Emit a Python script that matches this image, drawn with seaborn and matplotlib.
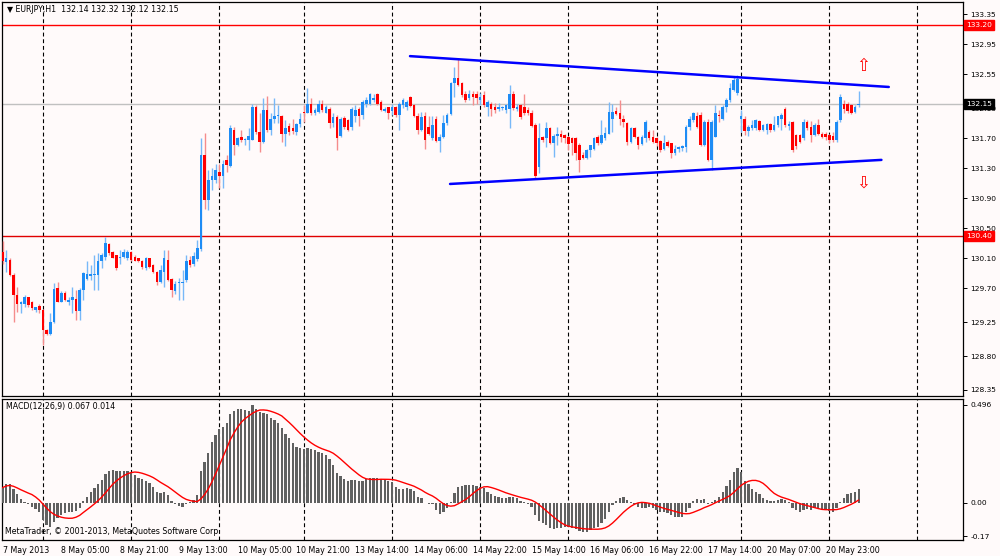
import numpy as np
import pandas as pd
import seaborn as sns
import matplotlib
matplotlib.use("Agg")
import matplotlib.pyplot as plt
import matplotlib.transforms as mtransforms

# EURJPY H1 bars, 7 May 13:00 .. 21 May 08:00
opens = [
    130.19, 130.05, 130.08, 129.88, 129.61, 129.49, 129.50, 129.58, 129.52, 129.41,
    129.47, 129.41, 129.15, 129.10, 129.25, 129.71, 129.52, 129.64, 129.52, 129.55,
    129.56, 129.40, 129.68, 129.83, 129.87, 129.88, 129.88, 130.06, 130.12, 130.29,
    130.19, 130.14, 130.10, 130.12, 130.11, 130.18, 130.12, 130.10, 130.07, 129.97,
    130.10, 130.01, 129.92, 129.79, 129.92, 130.08, 129.83, 129.67, 129.77, 129.77,
    129.81, 130.08, 130.03, 130.09, 130.22, 131.47, 130.87, 131.14, 131.14, 131.25,
    131.19, 131.41, 131.33, 131.81, 131.61, 131.71, 131.68, 131.68, 131.68, 132.11,
    131.78, 131.65, 132.08, 131.81, 131.95, 132.00, 132.00, 131.76, 131.86, 131.83,
    131.78, 131.89, 132.05, 132.04, 132.16, 132.03, 132.05, 132.15, 132.04, 132.09,
    131.90, 131.98, 131.73, 131.97, 131.94, 131.85, 131.99, 132.09, 132.01, 132.15,
    132.16, 132.21, 132.29, 132.18, 132.06, 132.11, 132.06, 132.11, 132.01, 132.14,
    132.12, 132.25, 132.14, 131.99, 131.81, 131.99, 131.85, 131.70, 131.96, 131.66,
    131.71, 131.90, 132.02, 132.43, 132.50, 132.43, 132.29, 132.23, 132.29, 132.29,
    132.21, 132.27, 132.12, 132.16, 132.12, 132.09, 132.10, 132.08, 132.09, 132.29,
    132.09, 132.14, 132.12, 132.07, 132.03, 131.87, 131.32, 131.71, 131.70, 131.83,
    131.63, 131.73, 131.75, 131.74, 131.72, 131.70, 131.70, 131.61, 131.47, 131.43,
    131.54, 131.56, 131.71, 131.63, 131.70, 131.76, 131.96, 132.06, 132.03, 131.96,
    131.90, 131.65, 131.83, 131.72, 131.62, 131.70, 131.78, 131.72, 131.70, 131.66,
    131.55, 131.65, 131.63, 131.50, 131.56, 131.57, 131.58, 131.85, 131.94, 132.00,
    132.01, 131.61, 131.92, 131.41, 131.72, 132.01, 131.96, 132.11, 132.21, 132.34,
    132.30, 131.96, 131.96, 131.79, 131.83, 131.84, 131.93, 131.81, 131.81, 131.89,
    131.81, 131.87, 131.96, 132.09, 131.86, 131.91, 131.74, 131.74, 131.70, 131.92,
    131.85, 131.74, 131.87, 131.76, 131.75, 131.74, 131.73, 131.67, 131.94, 132.16,
    132.16, 132.14, 132.05, 132.14,
]
highs = [
    130.33, 130.21, 130.10, 129.90, 129.72, 129.53, 129.61, 129.59, 129.53, 129.46,
    129.49, 129.43, 129.16, 129.38, 129.77, 129.79, 129.66, 129.66, 129.59, 129.72,
    129.68, 129.70, 129.92, 130.06, 130.01, 130.14, 130.17, 130.17, 130.39, 130.30,
    130.20, 130.15, 130.21, 130.22, 130.21, 130.20, 130.14, 130.11, 130.08, 130.12,
    130.11, 130.03, 129.93, 130.01, 130.21, 130.21, 129.84, 129.80, 129.84, 129.95,
    130.15, 130.13, 130.18, 130.35, 131.70, 131.77, 131.28, 131.30, 131.35, 131.36,
    131.41, 131.48, 131.87, 131.85, 131.72, 131.81, 131.70, 131.83, 132.16, 132.14,
    132.03, 132.23, 132.26, 132.03, 132.23, 132.14, 132.01, 131.94, 131.90, 131.96,
    131.90, 132.03, 132.14, 132.37, 132.23, 132.10, 132.21, 132.20, 132.14, 132.12,
    132.03, 132.01, 131.98, 131.99, 131.96, 132.11, 132.14, 132.11, 132.21, 132.25,
    132.30, 132.29, 132.30, 132.20, 132.12, 132.12, 132.16, 132.13, 132.18, 132.23,
    132.21, 132.26, 132.16, 132.03, 132.05, 132.05, 131.99, 131.99, 131.99, 131.76,
    132.01, 132.03, 132.44, 132.65, 132.76, 132.45, 132.33, 132.34, 132.32, 132.32,
    132.30, 132.32, 132.21, 132.18, 132.17, 132.17, 132.13, 132.16, 132.40, 132.32,
    132.16, 132.16, 132.29, 132.12, 132.07, 131.90, 131.90, 131.73, 131.92, 131.85,
    131.75, 131.85, 131.81, 131.75, 131.73, 131.71, 131.71, 131.63, 131.52, 131.56,
    131.61, 131.71, 131.74, 131.94, 131.85, 132.18, 132.16, 132.12, 132.21, 132.01,
    131.92, 131.85, 131.85, 131.73, 131.74, 131.94, 131.81, 131.81, 131.72, 131.67,
    131.74, 131.67, 131.64, 131.61, 131.59, 131.61, 131.87, 131.99, 132.05, 132.05,
    132.05, 131.94, 131.96, 131.94, 132.14, 132.07, 132.14, 132.23, 132.43, 132.52,
    132.54, 132.07, 131.99, 131.87, 131.94, 131.96, 131.94, 131.89, 131.90, 131.90,
    131.99, 132.00, 132.03, 132.11, 131.93, 131.93, 131.76, 131.76, 131.95, 131.94,
    131.93, 131.90, 131.96, 131.78, 131.78, 131.76, 131.78, 131.94, 132.29, 132.21,
    132.18, 132.16, 132.14, 132.32,
]
lows = [
    130.03, 129.92, 129.86, 129.26, 129.39, 129.38, 129.46, 129.46, 129.41, 129.39,
    129.38, 128.95, 129.08, 129.08, 129.24, 129.52, 129.52, 129.53, 129.48, 129.38,
    129.28, 129.28, 129.55, 129.81, 129.81, 129.68, 129.68, 129.97, 130.08, 130.15,
    130.10, 129.95, 130.03, 130.10, 130.08, 130.07, 130.06, 130.05, 129.96, 129.95,
    129.97, 129.90, 129.75, 129.77, 129.72, 129.80, 129.59, 129.62, 129.55, 129.55,
    129.79, 129.98, 130.00, 130.06, 130.20, 130.76, 130.74, 131.01, 131.10, 131.03,
    131.03, 131.25, 131.32, 131.47, 131.59, 131.65, 131.61, 131.54, 131.67, 131.76,
    131.52, 131.64, 131.78, 131.74, 131.90, 131.90, 131.65, 131.59, 131.74, 131.76,
    131.74, 131.85, 131.92, 132.03, 132.01, 132.01, 132.03, 132.05, 132.03, 131.83,
    131.85, 131.54, 131.72, 131.82, 131.79, 131.81, 131.92, 131.86, 131.96, 132.12,
    132.14, 132.18, 132.14, 132.06, 132.05, 131.96, 132.01, 131.98, 131.81, 132.10,
    132.08, 132.12, 131.98, 131.76, 131.79, 131.56, 131.74, 131.67, 131.65, 131.52,
    131.70, 131.87, 132.01, 132.25, 132.39, 132.25, 132.18, 132.21, 132.14, 132.16,
    132.14, 132.12, 131.99, 131.99, 132.03, 132.06, 132.07, 132.03, 131.83, 132.07,
    132.06, 131.96, 132.01, 132.01, 131.85, 131.15, 131.23, 131.65, 131.58, 131.62,
    131.45, 131.61, 131.65, 131.64, 131.54, 131.47, 131.41, 131.25, 131.42, 131.42,
    131.45, 131.54, 131.61, 131.62, 131.67, 131.75, 131.78, 132.01, 131.87, 131.85,
    131.61, 131.63, 131.70, 131.55, 131.61, 131.65, 131.67, 131.63, 131.59, 131.52,
    131.54, 131.58, 131.44, 131.48, 131.52, 131.53, 131.52, 131.81, 131.92, 131.84,
    131.60, 131.59, 131.39, 131.27, 131.71, 131.92, 131.94, 132.05, 132.18, 132.32,
    132.27, 131.78, 131.74, 131.73, 131.81, 131.81, 131.80, 131.79, 131.76, 131.78,
    131.80, 131.85, 131.81, 131.85, 131.81, 131.52, 131.56, 131.64, 131.67, 131.81,
    131.65, 131.73, 131.74, 131.70, 131.68, 131.63, 131.65, 131.65, 131.92, 132.03,
    132.03, 132.02, 132.03, 132.12,
]
closes = [
    130.06, 130.10, 129.88, 129.61, 129.50, 129.52, 129.59, 129.48, 129.44, 129.45,
    129.41, 129.15, 129.10, 129.26, 129.69, 129.52, 129.64, 129.55, 129.55, 129.59,
    129.40, 129.68, 129.90, 129.89, 129.89, 129.89, 130.06, 130.15, 130.30, 130.17,
    130.11, 129.97, 130.12, 130.18, 130.18, 130.08, 130.07, 130.07, 129.98, 130.11,
    129.99, 129.92, 129.79, 129.95, 130.11, 129.81, 129.68, 129.76, 129.78, 129.79,
    130.06, 130.01, 130.13, 130.24, 131.47, 130.88, 131.14, 131.20, 131.28, 131.19,
    131.36, 131.34, 131.83, 131.61, 131.70, 131.67, 131.69, 131.73, 132.12, 131.78,
    131.65, 132.08, 131.81, 131.95, 131.99, 132.01, 131.76, 131.83, 131.78, 131.79,
    131.89, 131.95, 132.03, 132.15, 132.03, 132.07, 132.16, 132.07, 132.12, 131.90,
    131.98, 131.70, 131.96, 131.85, 131.81, 132.09, 132.07, 131.99, 132.18, 132.21,
    132.29, 132.23, 132.16, 132.07, 132.09, 132.03, 132.11, 132.01, 132.16, 132.21,
    132.18, 132.13, 131.99, 131.81, 131.98, 131.67, 131.76, 131.87, 131.66, 131.71,
    131.90, 132.01, 132.43, 132.50, 132.41, 132.27, 132.21, 132.29, 132.25, 132.23,
    132.25, 132.14, 132.18, 132.09, 132.08, 132.11, 132.11, 132.14, 132.29, 132.10,
    132.12, 131.98, 132.03, 132.03, 131.86, 131.19, 131.70, 131.67, 131.83, 131.63,
    131.73, 131.75, 131.71, 131.70, 131.62, 131.63, 131.50, 131.41, 131.43, 131.54,
    131.61, 131.70, 131.63, 131.74, 131.77, 132.05, 132.05, 132.02, 131.95, 131.92,
    131.65, 131.83, 131.72, 131.61, 131.71, 131.92, 131.70, 131.65, 131.63, 131.54,
    131.63, 131.60, 131.50, 131.56, 131.58, 131.59, 131.85, 131.96, 132.03, 131.85,
    131.61, 131.92, 131.41, 131.92, 132.03, 131.99, 132.11, 132.21, 132.36, 132.47,
    132.49, 131.99, 131.79, 131.85, 131.87, 131.94, 131.81, 131.87, 131.89, 131.81,
    131.87, 131.99, 132.01, 131.87, 131.89, 131.54, 131.59, 131.65, 131.92, 131.83,
    131.74, 131.87, 131.76, 131.71, 131.71, 131.67, 131.68, 131.92, 132.25, 132.09,
    132.06, 132.03, 132.11, 132.15,
]
# MACD(12,26,9) main line, one value per bar
macd_main = [
    0.076, 0.093, 0.093, 0.069, 0.042, 0.019, 0.005, -0.008, -0.020, -0.034,
    -0.049, -0.088, -0.113, -0.125, -0.096, -0.076, -0.062, -0.054, -0.049, -0.046,
    -0.042, -0.029, 0.008, 0.030, 0.052, 0.073, 0.093, 0.115, 0.143, 0.160,
    0.165, 0.160, 0.160, 0.160, 0.160, 0.148, 0.140, 0.127, 0.120, 0.110,
    0.098, 0.081, 0.056, 0.047, 0.052, 0.039, 0.008, -0.008, -0.015, -0.022,
    -0.008, 0.005, 0.013, 0.039, 0.160, 0.207, 0.250, 0.309, 0.342, 0.373,
    0.385, 0.401, 0.447, 0.464, 0.474, 0.474, 0.469, 0.464, 0.494, 0.474,
    0.461, 0.452, 0.447, 0.430, 0.418, 0.401, 0.376, 0.346, 0.326, 0.300,
    0.283, 0.275, 0.272, 0.275, 0.272, 0.267, 0.258, 0.252, 0.243, 0.222,
    0.191, 0.148, 0.137, 0.120, 0.110, 0.115, 0.115, 0.110, 0.110, 0.120,
    0.127, 0.127, 0.123, 0.120, 0.115, 0.110, 0.103, 0.081, 0.069, 0.069,
    0.073, 0.069, 0.059, 0.030, 0.025, -0.003, -0.008, -0.008, -0.037, -0.059,
    -0.049, -0.025, 0.005, 0.047, 0.081, 0.086, 0.089, 0.089, 0.089, 0.086,
    0.081, 0.073, 0.056, 0.042, 0.035, 0.030, 0.022, 0.025, 0.030, 0.030,
    0.022, 0.008, 0.002, -0.008, -0.020, -0.062, -0.093, -0.105, -0.113, -0.127,
    -0.133, -0.130, -0.127, -0.121, -0.121, -0.127, -0.133, -0.143, -0.150, -0.147,
    -0.138, -0.130, -0.121, -0.105, -0.083, -0.046, -0.012, 0.008, 0.022, 0.030,
    0.013, 0.005, -0.008, -0.020, -0.025, -0.025, -0.020, -0.029, -0.037, -0.046,
    -0.049, -0.054, -0.062, -0.071, -0.071, -0.071, -0.046, -0.025, 0.008, 0.019,
    0.013, 0.019, -0.008, 0.002, 0.013, 0.030, 0.056, 0.086, 0.115, 0.154,
    0.177, 0.154, 0.110, 0.093, 0.069, 0.056, 0.042, 0.025, 0.013, 0.008,
    0.008, 0.013, 0.019, 0.013, 0.005, -0.025, -0.037, -0.049, -0.037, -0.032,
    -0.037, -0.029, -0.029, -0.032, -0.037, -0.042, -0.049, -0.029, 0.005, 0.022,
    0.042, 0.047, 0.056, 0.069,
]

tick_bars = [0, 16, 32, 48, 64, 80, 96, 112, 128, 144, 160, 176, 192, 208, 224]
tick_labels = ['7 May 2013', '8 May 05:00', '8 May 21:00', '9 May 13:00',
               '10 May 05:00', '10 May 21:00', '13 May 14:00', '14 May 06:00',
               '14 May 22:00', '15 May 14:00', '16 May 06:00', '16 May 22:00',
               '17 May 14:00', '20 May 07:00', '20 May 23:00']
day_starts = [11, 35, 59, 82, 106, 130, 154, 178, 201, 225, 249]

price_ticks = [133.35, 132.95, 132.55, 132.10, 131.70, 131.30, 130.90,
               130.50, 130.10, 129.70, 129.25, 128.80, 128.35]
macd_ticks = [0.496, 0.0, -0.17]
macd_tick_labels = ['0.496', '0.00', '-0.17']

resistance = 133.20
support = 130.40
bid = 132.15

# channel drawn on the chart (bar index, price)
upper_x = [110.9, 241.2]
upper_y = [132.79, 132.38]
lower_x = [121.8, 239.2]
lower_y = [131.09, 131.41]
arrow_up = (234.1, 132.66)
arrow_down = (234.1, 131.11)

df = pd.DataFrame({'open': opens, 'high': highs, 'low': lows,
                   'close': closes, 'macd': macd_main})
df['bar'] = np.arange(len(df))
df['signal'] = df['macd'].rolling(9, min_periods=1).mean()

sns.set_style('white')
plt.rcParams['font.family'] = ['DejaVu Sans']
bg = '#fffafa'

fig = plt.figure(figsize=(10, 5.56), dpi=100, facecolor=bg)
ax = fig.add_axes([0.002, 0.2878, 0.961, 0.7086], facecolor=bg)
axm = fig.add_axes([0.002, 0.0288, 0.961, 0.2536], facecolor=bg)

xmin, xmax = -0.14, 261.4
for a in (ax, axm):
    a.set_xlim(xmin, xmax)
    for d in day_starts:
        a.axvline(d, color='black', lw=0.8, ls=(0, (3.5, 2.5)), zorder=1)
    for s in a.spines.values():
        s.set_color('black')
        s.set_linewidth(0.9)
    a.yaxis.tick_right()
    a.tick_params(axis='y', direction='out', length=3, width=0.7, pad=2.5,
                  labelsize=5.4, colors='black')

# horizontal levels
ax.axhline(bid, color='#c0c0c0', lw=1, zorder=1)
ax.axhline(resistance, color='red', lw=1, zorder=2)
ax.axhline(support, color='#e00000', lw=1, zorder=2)

# candles
up = df['close'] >= df['open']
for mask, body_c, wick_c in [(up, '#1e8cf5', '#78b8f8'), (~up, '#ff0000', '#f58c8c')]:
    d = df[mask]
    ax.vlines(d['bar'], d['low'], d['high'], color=wick_c, lw=1.0, zorder=3)
    height = (d['close'] - d['open']).abs().clip(lower=0.012)
    bottom = d[['open', 'close']].min(axis=1)
    ax.bar(d['bar'], height, bottom=bottom, width=0.7, color=body_c,
           lw=0, zorder=4)

# channel lines
sns.lineplot(x=upper_x, y=upper_y, ax=ax, color='#0000ff', lw=1.8, zorder=5)
sns.lineplot(x=lower_x, y=lower_y, ax=ax, color='#0000ff', lw=1.8, zorder=5)
ax.text(arrow_up[0], arrow_up[1], '\u21e7', color='red', fontsize=12,
        ha='center', va='center', zorder=6)
ax.text(arrow_down[0], arrow_down[1], '\u21e9', color='red', fontsize=12,
        ha='center', va='center', zorder=6)

ax.set_ylim(128.27, 133.51)
ax.set_yticks(price_ticks)
ax.set_yticklabels([f'{p:.2f}' for p in price_ticks])
ax.set_xticks([])
ax.set_xlabel('')
ax.set_ylabel('')

# price labels on the right scale
trans = mtransforms.blended_transform_factory(ax.transAxes, ax.transData)
for val, fc in [(resistance, '#ff0000'), (support, '#ff0000'), (bid, '#000000')]:
    ax.text(1.0035, val, f'{val:.2f}', transform=trans, ha='left', va='center',
            color='white', fontsize=5.4, zorder=10, clip_on=False,
            bbox=dict(boxstyle='square,pad=0.25', fc=fc, ec=fc))

# MACD panel
axm.bar(df['bar'], df['macd'], width=0.62, color='#606060', lw=0, zorder=3)
sns.lineplot(data=df, x='bar', y='signal', ax=axm, color='red', lw=1, zorder=4)
axm.set_ylim(-0.189, 0.525)
axm.set_yticks(macd_ticks)
axm.set_yticklabels(macd_tick_labels)
axm.set_xticks(tick_bars)
axm.set_xticklabels(tick_labels, ha='left')
axm.tick_params(axis='x', direction='out', length=3, width=0.7, pad=1.5,
                labelsize=5.7, colors='black')
axm.set_xlabel('')
axm.set_ylabel('')

fig.text(0.007, 1 - 10 / 556, '\u25bc EURJPY,H1  132.14 132.32 132.12 132.15',
         fontsize=5.7, va='center', ha='left', color='black')
fig.text(0.006, 1 - 407 / 556, 'MACD(12,26,9) 0.067 0.014',
         fontsize=5.7, va='center', ha='left', color='black')
fig.text(0.005, 1 - 532 / 556, 'MetaTrader, \u00a9 2001-2013, MetaQuotes Software Corp.',
         fontsize=5.7, va='center', ha='left', color='black')

fig.savefig('out.png', dpi=100, facecolor=bg)
